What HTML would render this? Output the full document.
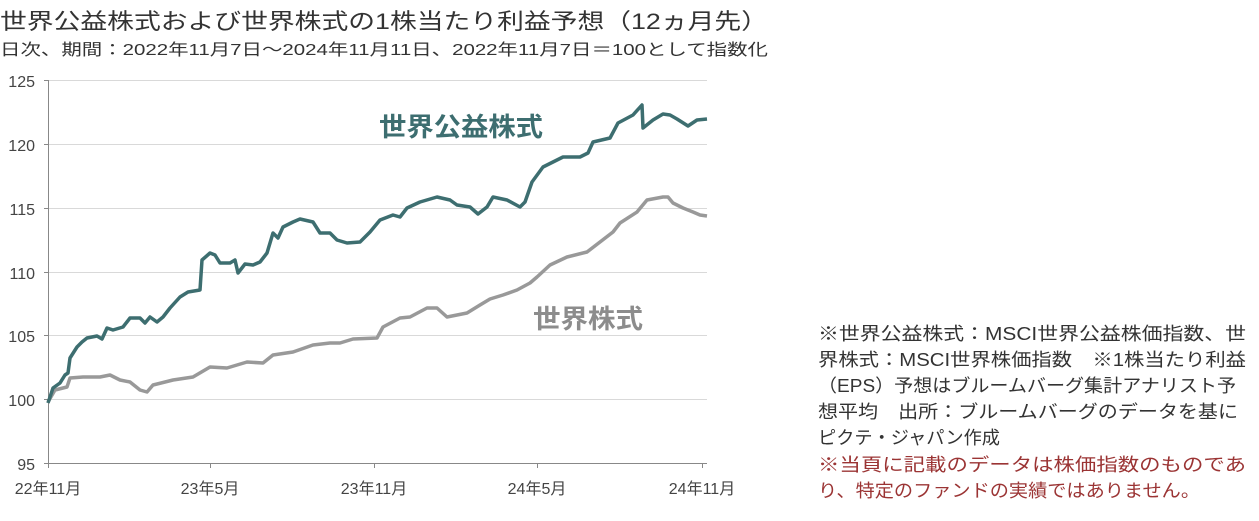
<!DOCTYPE html>
<html><head><meta charset="utf-8"><style>
html,body{margin:0;padding:0;background:#fff;}
svg{display:block;font-family:"Liberation Sans","Noto Sans CJK JP",sans-serif;}
</style></head><body>
<svg width="1259" height="521" viewBox="0 0 1259 521" xmlns="http://www.w3.org/2000/svg">
<text x="0" y="29" font-size="22" fill="#333" textLength="768" lengthAdjust="spacingAndGlyphs">世界公益株式および世界株式の1株当たり利益予想（12ヵ月先）</text>
<text x="0" y="55" font-size="16" fill="#333" textLength="768" lengthAdjust="spacingAndGlyphs">日次、期間：2022年11月7日～2024年11月11日、2022年11月7日＝100として指数化</text>
<g stroke="#d9d9d9" stroke-width="1">
<line x1="48" x2="707" y1="80.5" y2="80.5"/>
<line x1="48" x2="707" y1="144.5" y2="144.5"/>
<line x1="48" x2="707" y1="208.5" y2="208.5"/>
<line x1="48" x2="707" y1="272.5" y2="272.5"/>
<line x1="48" x2="707" y1="335.5" y2="335.5"/>
<line x1="48" x2="707" y1="399.5" y2="399.5"/>
</g>
<g stroke="#888" stroke-width="1">
<line x1="48.5" x2="48.5" y1="80" y2="468"/>
<line x1="44" x2="707" y1="463.5" y2="463.5"/>
<line x1="44" x2="48" y1="80.5" y2="80.5"/><line x1="44" x2="48" y1="144.5" y2="144.5"/><line x1="44" x2="48" y1="208.5" y2="208.5"/><line x1="44" x2="48" y1="272.5" y2="272.5"/><line x1="44" x2="48" y1="335.5" y2="335.5"/><line x1="44" x2="48" y1="399.5" y2="399.5"/>
<line x1="210.5" x2="210.5" y1="463" y2="468"/><line x1="374.5" x2="374.5" y1="463" y2="468"/><line x1="537.5" x2="537.5" y1="463" y2="468"/><line x1="702.5" x2="702.5" y1="463" y2="468"/>
</g>
<g font-size="16" fill="#444" text-anchor="end">
<text x="35" y="87">125</text><text x="35" y="151">120</text><text x="35" y="215">115</text><text x="35" y="279">110</text><text x="35" y="342">105</text><text x="35" y="406">100</text><text x="35" y="470">95</text>
</g>
<g font-size="16" fill="#444" text-anchor="middle">
<text x="48" y="494">22年11月</text><text x="210" y="494">23年5月</text><text x="374" y="494">23年11月</text><text x="537" y="494">24年5月</text><text x="702" y="494">24年11月</text>
</g>
<polyline fill="none" stroke="#999" stroke-width="3.5" stroke-linejoin="round" points="48,402 55,390 67,387 70,378 83,377 100,377 110,375 120,380 130,382 140,390 147,392 153,385 173,380 193,377 210,367 227,368 247,362 263,363 273,355 293,352 313,345 330,343 340,343 353,339 377,338 383,327 400,318 410,317 427,308 437,308 447,317 467,313 480,305 490,299 503,295 517,290 530,283 537,277 550,265 567,257 587,252 600,242 613,232 620,223 637,212 647,200 663,197 668,197 673,203 683,208 693,212 700,215 707,216"/>
<polyline fill="none" stroke="#3d6e70" stroke-width="3.5" stroke-linejoin="round" points="48,403 53,388 60,383 65,375 68,373 70,358 77,347 82,342 87,338 97,336 102,339 107,328 113,330 123,327 130,318 140,318 145,323 150,317 157,322 163,317 170,308 180,297 188,292 200,290 202,260 210,253 215,255 220,263 230,263 235,260 238,273 245,264 253,265 260,262 267,253 273,233 278,238 283,227 293,222 300,219 313,222 320,233 330,233 337,240 347,243 360,242 370,232 380,220 393,215 400,217 407,208 420,202 437,197 450,200 457,205 470,207 478,214 487,207 493,197 507,200 520,207 525,202 532,182 543,167 553,162 563,157 580,157 588,153 593,142 610,138 618,123 633,115 642,105 643,128 653,120 663,114 670,115 677,119 688,126 697,120 707,119"/>
<text x="379" y="136" font-size="26" font-weight="bold" fill="#3d6e70" textLength="164" lengthAdjust="spacingAndGlyphs">世界公益株式</text>
<text x="533" y="328" font-size="26" font-weight="bold" fill="#8c8c8c" textLength="110" lengthAdjust="spacingAndGlyphs">世界株式</text>
<g font-size="18" fill="#333">
<text x="818" y="340" textLength="428" lengthAdjust="spacingAndGlyphs">※世界公益株式：MSCI世界公益株価指数、世</text>
<text x="818" y="366" textLength="428" lengthAdjust="spacingAndGlyphs">界株式：MSCI世界株価指数　※1株当たり利益</text>
<text x="818" y="392" textLength="418" lengthAdjust="spacingAndGlyphs">（EPS）予想はブルームバーグ集計アナリスト予</text>
<text x="818" y="418" textLength="420" lengthAdjust="spacingAndGlyphs">想平均　出所：ブルームバーグのデータを基に</text>
<text x="818" y="444" textLength="182" lengthAdjust="spacingAndGlyphs">ピクテ・ジャパン作成</text>
</g>
<g font-size="18" fill="#9b3434">
<text x="818" y="471" textLength="428" lengthAdjust="spacingAndGlyphs">※当頁に記載のデータは株価指数のものであ</text>
<text x="818" y="497" textLength="382" lengthAdjust="spacingAndGlyphs">り、特定のファンドの実績ではありません。</text>
</g>
</svg>
</body></html>
